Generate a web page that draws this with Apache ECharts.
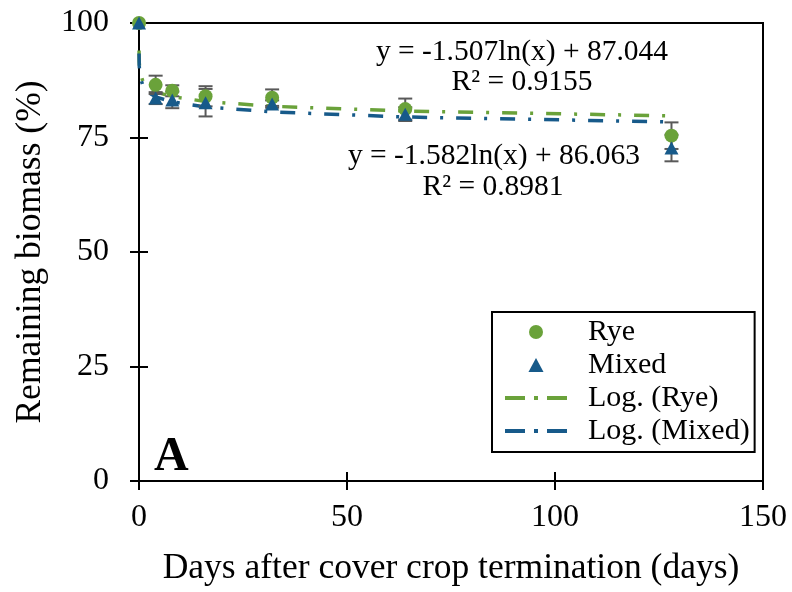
<!DOCTYPE html>
<html>
<head>
<meta charset="utf-8">
<script src="https://cdn.jsdelivr.net/npm/echarts@6/dist/echarts.min.js"></script>
<style>html,body{margin:0;padding:0;background:#fff;}#c{width:792px;height:592px;}</style>
</head>
<body>
<div id="c"></div>
<script>
// Sampling days (first sampling shown at day 0)
const days = [0.01, 4, 8, 16, 32, 64, 128];
// Remaining biomass (%)
const ryeValues = [100, 86.5, 85.2, 84.0, 83.7, 81.2, 75.4];
const mixedValues = [100, 83.6, 83.2, 82.6, 82.3, 80.1, 72.7];
// Standard errors
const ryeErr = [0, 2.0, 1.2, 2.2, 1.8, 2.3, 2.9];
const mixedErr = [0, 1.3, 1.8, 3.0, 0.8, 1.5, 2.9];
// Logarithmic trendline samples (from the fitted equations shown on the chart)
const trendDays = [0.01, 0.05, 0.2, 1, 2, 4, 8, 16, 32, 64, 128];
const ryeTrend = [93.98, 91.56, 89.47, 87.04, 86.00, 84.95, 83.91, 82.87, 81.82, 80.78, 79.73];
const mixedTrend = [93.35, 90.80, 88.61, 86.06, 84.97, 83.87, 82.77, 81.68, 80.58, 79.48, 78.39];
// Axis ticks
const xTicks = {min: 0, max: 150, interval: 50};
const yTicks = {min: 0, max: 100, interval: 25};
const eqRye = ['y = -1.507ln(x) + 87.044', 'R² = 0.9155'];
const eqMixed = ['y = -1.582ln(x) + 86.063', 'R² = 0.8981'];

const GREEN = '#6AA23A', BLUE = '#175A8A', GRAY = '#595959';
const FONT = '"Liberation Serif", "Times New Roman", serif';

const pairs = (xs, ys) => xs.map((x, i) => [x, ys[i]]);
const errData = (vals, errs) => days.map((d, i) => [d, vals[i] - errs[i], vals[i] + errs[i]]);

function errRender(params, api) {
  const x = api.value(0);
  const lo = api.coord([x, api.value(1)]);
  const hi = api.coord([x, api.value(2)]);
  const cap = 7;
  const style = {stroke: GRAY, lineWidth: 2};
  return {type: 'group', children: [
    {type: 'line', shape: {x1: lo[0], y1: lo[1], x2: hi[0], y2: hi[1]}, style},
    {type: 'line', shape: {x1: lo[0] - cap, y1: lo[1], x2: lo[0] + cap, y2: lo[1]}, style},
    {type: 'line', shape: {x1: hi[0] - cap, y1: hi[1], x2: hi[0] + cap, y2: hi[1]}, style}
  ]};
}

const chart = echarts.init(document.getElementById('c'));
const dash = [15, 13, 3, 13];
const eqFont = '29.5px ' + FONT;
const dashDotIcon = 'path://M0,0h20v4h-20z M29,0h4v4h-4z M42,0h20v4h-20z';
chart.setOption({
  animation: false,
  backgroundColor: '#fff',
  grid: {left: 139, right: 29, top: 23, bottom: 111, show: true, borderColor: '#000', borderWidth: 2},
  xAxis: [{
    type: 'value', ...xTicks,
    name: 'Days after cover crop termination (days)', nameLocation: 'middle', nameGap: 70,
    nameTextStyle: {fontFamily: FONT, fontSize: 35.5, color: '#000'},
    axisLine: {lineStyle: {color: '#000', width: 2}},
    axisTick: {length: 9, lineStyle: {color: '#000', width: 2}},
    axisLabel: {fontFamily: FONT, fontSize: 32, color: '#000', margin: 21},
    splitLine: {show: false}
  }, {
    type: 'value', ...xTicks, position: 'bottom',
    axisLine: {show: false}, axisLabel: {show: false}, splitLine: {show: false},
    axisTick: {inside: true, length: 9, lineStyle: {color: '#000', width: 2}}
  }],
  yAxis: [{
    type: 'value', ...yTicks,
    name: 'Remaining biomass (%)', nameLocation: 'middle', nameGap: 90,
    nameTextStyle: {fontFamily: FONT, fontSize: 35.5, color: '#000'},
    axisLine: {lineStyle: {color: '#000', width: 2}},
    axisTick: {length: 9, lineStyle: {color: '#000', width: 2}},
    axisLabel: {fontFamily: FONT, fontSize: 32, color: '#000', margin: 30},
    splitLine: {show: false}
  }, {
    type: 'value', ...yTicks, position: 'left',
    axisLine: {show: false}, axisLabel: {show: false}, splitLine: {show: false},
    axisTick: {inside: true, length: 9, lineStyle: {color: '#000', width: 2}}
  }],
  legend: {
    left: 492, top: 312, orient: 'vertical',
    data: [
      {name: 'Rye', icon: 'circle'},
      {name: 'Mixed', icon: 'path://M7,0L14,13L0,13Z'},
      {name: 'Log. (Rye)', icon: dashDotIcon},
      {name: 'Log. (Mixed)', icon: dashDotIcon}
    ],
    symbolKeepAspect: true,
    itemWidth: 62, itemHeight: 14, itemGap: 3,
    padding: [5, 5, 6, 13],
    borderColor: '#000', borderWidth: 2, backgroundColor: '#fff',
    textStyle: {fontFamily: FONT, fontSize: 30, lineHeight: 30, color: '#000', padding: [0, 0, 0, 16]}
  },
  graphic: [
    {type: 'text', position: [522, 52], style: {text: eqRye[0], font: eqFont, fill: '#000', textAlign: 'center', textVerticalAlign: 'middle'}},
    {type: 'text', position: [522, 82], style: {text: eqRye[1], font: eqFont, fill: '#000', textAlign: 'center', textVerticalAlign: 'middle'}},
    {type: 'text', position: [494, 156], style: {text: eqMixed[0], font: eqFont, fill: '#000', textAlign: 'center', textVerticalAlign: 'middle'}},
    {type: 'text', position: [493, 187], style: {text: eqMixed[1], font: eqFont, fill: '#000', textAlign: 'center', textVerticalAlign: 'middle'}},
    {type: 'text', position: [154, 458], style: {text: 'A', font: 'bold 48px ' + FONT, fill: '#000', textAlign: 'left', textVerticalAlign: 'middle'}}
  ],
  series: [
    {name: 'Log. (Rye)', type: 'line', data: pairs(trendDays, ryeTrend), symbol: 'none', z: 2,
     lineStyle: {color: GREEN, width: 3.5, type: dash}, itemStyle: {color: GREEN}},
    {name: 'Log. (Mixed)', type: 'line', data: pairs(trendDays, mixedTrend), symbol: 'none', z: 2,
     lineStyle: {color: BLUE, width: 3.5, type: dash}, itemStyle: {color: BLUE}},
    {name: 'errRye', type: 'custom', renderItem: errRender, data: errData(ryeValues, ryeErr), z: 3, clip: false},
    {name: 'errMixed', type: 'custom', renderItem: errRender, data: errData(mixedValues, mixedErr), z: 3, clip: false},
    {name: 'Rye', type: 'scatter', data: pairs(days, ryeValues), symbol: 'circle', symbolSize: 14, z: 4, clip: false,
     itemStyle: {color: GREEN, opacity: 1}},
    {name: 'Mixed', type: 'scatter', data: pairs(days, mixedValues), symbol: 'triangle', symbolSize: [14, 13], z: 5, clip: false,
     itemStyle: {color: BLUE, opacity: 1}}
  ]
});
</script>
</body>
</html>
